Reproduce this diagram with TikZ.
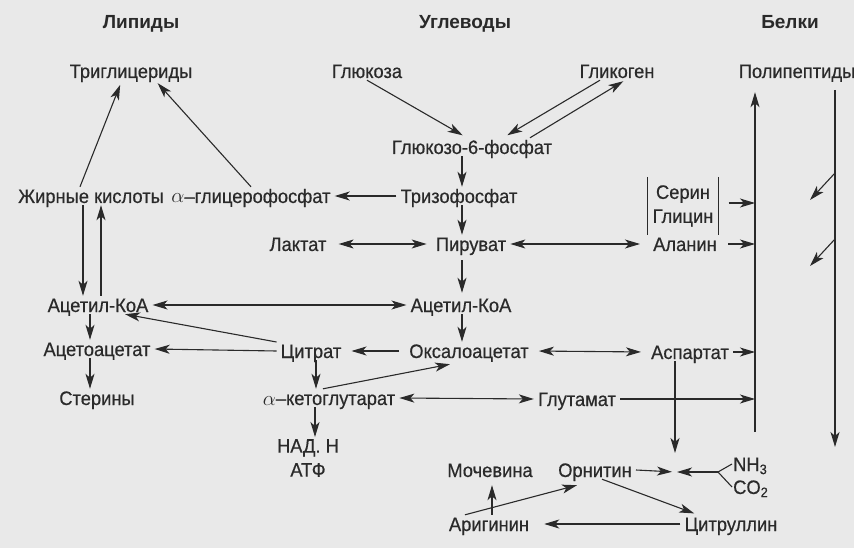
\documentclass[tikz,border=0pt]{standalone}
\usepackage{fontspec}
\setmainfont{Liberation Sans}[FakeStretch=0.94,FakeBold=0.5]
\newfontfamily\headfont{Liberation Sans}[FakeStretch=1.0]
\usepackage{tikz}
\usetikzlibrary{arrows.meta,positioning,calc}
\definecolor{cInk}{HTML}{2A2A2A}
\definecolor{cPaper}{HTML}{E9E9E9}
\tikzset{
  >={Stealth[length=15pt,width=9pt,inset=4pt]},
  txt/.style ={font=\fontsize{19.5}{24}\selectfont,text=cInk,
               inner xsep=4pt,inner ysep=2pt},
  met/.style ={txt,text height=14pt,text depth=0pt},
  head/.style={met,font=\headfont\fontsize{19}{24}\selectfont\bfseries},
  ar/.style  ={->,line width=1.1pt,draw=cInk},
  dar/.style ={<->,line width=1.1pt,draw=cInk},
  ln/.style  ={line width=1.1pt,draw=cInk},
}

\begin{document}
\begin{tikzpicture}[x=1pt,y=-1pt]
\fill[cPaper] (0,0) rectangle (854,548);
\useasboundingbox (0,0) rectangle (854,548);

% headings
\node[head] (lip) at (141,22) {Липиды};
\node[head] (ugl) at (465,22) {Углеводы};
\node[head] (bel) at (790,22) {Белки};

% lipids column
\node[met] (tg)  at (131,71)  {Триглицериды};
\node[met] (zk)  at (91,196)  {Жирные кислоты};
\node[met] (agf) at (251,196) {$\alpha$–глицерофосфат};
\node[met] (aca) at (98,305)  {Ацетил-КоА};
\node[met] (aat) at (97,349)  {Ацетоацетат};
\node[met] (ste) at (97,398)  {Стерины};

% carbohydrate column
\node[met] (glu) at (367,71)  {Глюкоза};
\node[met] (gly) at (617,71)  {Гликоген};
\node[met] (g6f) at (472,147) {Глюкозо-6-фосфат};
\node[met] (tri) at (459,196) {Тризофосфат};
\node[met] (lak) at (298,244) {Лактат};
\node[met] (pir) at (471,244) {Пируват};
\node[met] (acc) at (461,305) {Ацетил-КоА};
\node[met] (cit) at (311,351) {Цитрат};
\node[met] (oxa) at (469,351) {Оксалоацетат};
\node[met] (akg) at (329,398) {$\alpha$–кетоглутарат};
\node[txt,align=center] (nad) at (308,458) {НАД. Н\\АТФ};

% protein column
\node[met] (pol) at (797,71)  {Полипептиды};
\node[txt,align=center,minimum width=71pt,minimum height=58pt,inner xsep=0pt]
  (sg) at (683,206) {Серин\\Глицин};
\node[met] (ala) at (685,244) {Аланин};
\node[met] (asp) at (690,352) {Аспартат};
\node[met] (glm) at (577,399) {Глутамат};

% urea cycle
\node[met] (moc) at (490,470) {Мочевина};
\node[met] (orn) at (595,470) {Орнитин};
\node[met,anchor=west,inner xsep=1pt] (nh) at (732,464) {NH\textsubscript{3}};
\node[met,anchor=west,inner xsep=1pt] (co) at (732,487) {CO\textsubscript{2}};
\node[met] (arg) at (489,524) {Аригинин};
\node[met] (ctr) at (731,524) {Цитруллин};

\coordinate (fk)  at (718,472);
\coordinate (cv)  at (675,472);
\coordinate (cx)  at (462,0);
\coordinate (vlb) at (755,432);
\coordinate (vrt) at (835,90);
\coordinate (vrb) at (835,447);
\coordinate (d1)  at (835,173);
\coordinate (d2)  at (835,239);

% lipids
\draw[ar,shorten >=5pt] ([xshift=-11pt]zk.north) -- ([xshift=-9pt]tg.south);
\draw[ar,shorten >=4pt] (agf.north) -- ([xshift=24pt]tg.south);
\draw[ar] ([xshift=-8pt]zk.south) -- ([xshift=-8pt]zk.south |- aca.north);
\draw[ar] ([xshift=10pt]zk.south |- aca.north) -- ([xshift=10pt]zk.south);
\draw[ar] ([xshift=-8pt]aca.south) -- ([xshift=-8pt]aca.south |- aat.north);
\draw[ar] ([xshift=-7pt]aat.south) -- ([xshift=-7pt]aat.south |- ste.north);
\draw[dar] (aca.east) -- (acc.west);
\draw[ar] ([yshift=9pt]cit.west) -- ([xshift=27pt]aca.south);
\draw[ar] (cit.west) -- (aat.east);

% glycolysis
\draw[ar,shorten >=5pt] (glu.south) -- ([xshift=-5pt]g6f.north);
\draw[ar,shorten >=5pt] ([xshift=-17pt]gly.south) -- ([xshift=31pt]g6f.north);
\draw[ar,shorten >=2pt] ([xshift=58pt]g6f.north) -- ([xshift=8pt]gly.south);
\draw[ar] (g6f.south -| cx) -- (tri.north -| cx);
\draw[ar] (tri.west) -- (agf.east);
\draw[ar] (tri.south -| cx) -- (pir.north -| cx);
\draw[dar,shorten <=8pt,shorten >=5pt] (lak.east) -- (pir.west);
\draw[ar,shorten <=7pt,shorten >=3pt] (pir.south -| cx) -- (acc.north -| cx);
\draw[ar] (acc.south -| cx) -- (oxa.north -| cx);
\draw[ar,shorten <=6pt,shorten >=6pt] (oxa.west) -- (cit.east);
\draw[ar] ([xshift=5pt]cit.south) -- ([xshift=5pt]cit.south |- akg.north);
\draw[ar] ([xshift=-6pt]akg.north) -- ([xshift=-19pt,yshift=-4pt]oxa.south);
\draw[ar] ([xshift=-14pt]akg.south) -- ([xshift=-14pt]akg.south |- nad.north);

% amino acids
\draw[dar,shorten >=9pt] (pir.east) -- (ala.west);
\draw[dar,shorten <=6pt,shorten >=6pt] (oxa.east) -- (asp.west);
\draw[dar] (akg.east) -- (glm.west);
\draw[ln] (sg.north west) -- (sg.south west) (sg.north east) -- (sg.south east);
\draw[ar,shorten <=10pt] ([yshift=3pt]sg.east) -- ([yshift=3pt]sg.east -| vlb);
\draw[ar,shorten <=7pt] (ala.east) -- (ala.east -| vlb);
\draw[ar] (asp.east) -- (asp.east -| vlb);
\draw[ar] (glm.east) -- (glm.east -| vlb);
\draw[ar,shorten >=12pt] (vlb) -- (vlb |- pol.south);
\draw[ar] (vrt) -- (vrb);
\draw[ar] (d1) -- ++(-25,27);
\draw[ar] (d2) -- ++(-25,27);

% urea cycle
\draw[ar,shorten >=19pt] (asp.south -| cv) -- (cv);
\draw[ar,shorten >=3pt] (orn.east) -- (cv);
\draw[ln] (nh.west) -- (fk) -- (co.west);
\draw[ar,shorten >=2pt] (fk) -- (cv);
\draw[ar,shorten >=6pt] ([xshift=3pt]arg.north) -- ([xshift=3pt]arg.north |- moc.south);
\draw[ar] ([xshift=-24pt]arg.north) -- ([xshift=-18pt,yshift=-6pt]orn.south);
\draw[ar,shorten >=4pt] ([xshift=7pt]orn.south) -- ([xshift=-33pt]ctr.north);
\draw[ar,shorten >=11pt] (ctr.west) -- (arg.east);
\end{tikzpicture}
\end{document}
